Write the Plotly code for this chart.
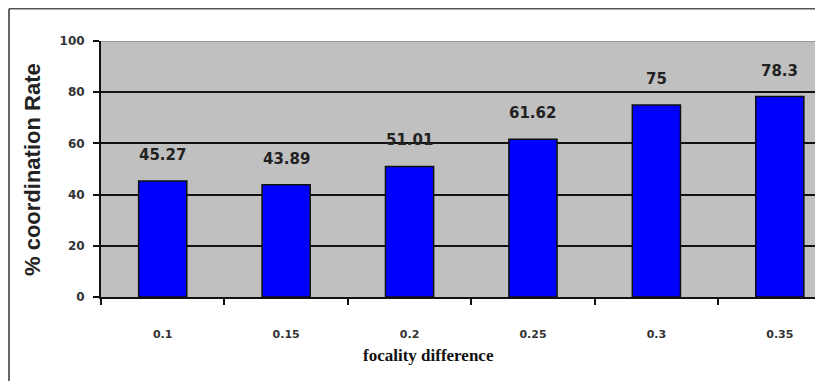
import plotly.graph_objects as go

categories = ["0.1", "0.15", "0.2", "0.25", "0.3", "0.35"]
values = [45.27, 43.89, 51.01, 61.62, 75, 78.3]
value_labels = ["45.27", "43.89", "51.01", "61.62", "75", "78.3"]
y_ticks = [0, 20, 40, 60, 80, 100]

fig = go.Figure()
fig.add_trace(go.Bar(
    x=categories, y=values, width=0.39,
    marker=dict(color="#0000FF", line=dict(color="#101010", width=1.5)),
    hoverinfo="x+y",
))

for i, (v, t) in enumerate(zip(values, value_labels)):
    fig.add_annotation(x=i, y=v, xref="x", yref="y", text=t, showarrow=False, yshift=26,
                       font=dict(family="DejaVu Sans", size=15, color="#222222", weight="bold"))

# axis titles
fig.add_annotation(xref="paper", yref="paper", x=0.454, y=-0.23, text="focality difference",
                   showarrow=False, xanchor="center", yanchor="middle",
                   font=dict(family="Liberation Serif", size=17, color="#111111", weight="bold"))
fig.add_annotation(xref="paper", yref="paper", x=-0.0956, y=0.5, text="% coordination Rate",
                   showarrow=False, textangle=-90, xanchor="center", yanchor="middle",
                   font=dict(family="Liberation Sans", size=22, color="#222222", weight="bold"))

# top plot edge (lighter line at 100)
fig.add_shape(type="line", xref="paper", yref="y", x0=0, x1=1, y0=100, y1=100,
              line=dict(color="#8a8a8a", width=1.5))
# outer frame lines (top and left)
fig.add_shape(type="line", xref="paper", yref="paper", x0=-0.1274, x1=1.01, y0=1.126, y1=1.126,
              line=dict(color="#555555", width=1.5))
fig.add_shape(type="line", xref="paper", yref="paper", x0=-0.1274, x1=-0.1274, y0=1.126, y1=-0.4,
              line=dict(color="#333333", width=1.5))

fig.update_layout(
    width=815, height=373,
    margin=dict(l=93, r=0, t=33, b=84),
    paper_bgcolor="white", plot_bgcolor="#C0C0C0",
    showlegend=False,
    font=dict(family="DejaVu Sans", color="#333333"),
    xaxis=dict(
        type="category", range=[-0.5, 5.35],
        tickson="boundaries", ticks="outside", ticklen=6, tickwidth=2, tickcolor="#111111",
        showline=True, linecolor="#111111", linewidth=2,
        showgrid=False, zeroline=False,
        tickfont=dict(family="DejaVu Sans", size=11, color="#333333", weight="bold"),
        ticklabelstandoff=26,
    ),
    yaxis=dict(
        range=[0, 100], tickvals=y_ticks,
        ticks="outside", ticklen=6, tickwidth=2, tickcolor="#111111",
        showline=True, linecolor="#111111", linewidth=2,
        showgrid=True, gridcolor="#111111", gridwidth=1.5,
        zeroline=False,
        tickfont=dict(family="DejaVu Sans", size=12, color="#333333", weight="bold"),
        ticklabelstandoff=6,
    ),
)

fig.write_html("out.html")
